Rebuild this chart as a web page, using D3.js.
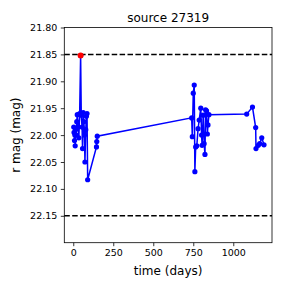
<!DOCTYPE html>
<html>
<head>
<meta charset="utf-8">
<script src="https://cdn.jsdelivr.net/npm/d3@7"></script>
<style>
  body { margin: 0; background: #fff; }
  text { font-family: "DejaVu Sans", sans-serif; fill: #000; }
</style>
</head>
<body>
<svg id="chart" width="288" height="288"></svg>
<script>
const title = "source 27319";
const xLabel = "time (days)";
const yLabel = "r mag (mag)";

// light curve, time in days and r magnitude
const days = [3, 5, 8, 10, 12, 14, 18, 22, 25, 30, 35, 40, 46, 50, 55, 58, 62, 66, 70, 73, 78, 82, 86, 90,
    145, 147, 150,
    740, 744, 750, 756, 760, 765, 772, 780, 787, 797, 802, 805, 812, 818, 823, 827, 833, 838, 842, 848,
    1084, 1120, 1140, 1142, 1156, 1165, 1178, 1192];
const mags = [21.985, 21.995, 22.010, 22.000, 22.020, 21.990, 22.000, 21.975, 21.962, 21.985, 22.005, 21.960, 21.852, 21.963, 21.985, 22.025, 21.958, 21.975, 22.000, 22.050, 21.990, 21.965, 21.960, 22.083,
    22.022, 22.012, 22.002,
    21.968, 22.003, 21.922, 21.907, 22.068, 22.022, 22.020, 21.988, 21.972, 21.950, 22.000, 22.019, 21.963, 22.016, 22.036, 21.953, 21.955, 21.998, 21.981, 21.962,
    21.961, 21.948, 21.986, 22.025, 22.019, 22.016, 22.005, 22.018];
const flagged = [12]; // index of the red point
const limits = [21.85, 22.15];

const xTicks = [0, 250, 500, 750, 1000];
const yTicks = [21.80, 21.85, 21.90, 21.95, 22.00, 22.05, 22.10, 22.15];

const data = days.map((d, i) => ({ t: d, m: mags[i] }));

const margin = { top: 27.5, right: 16, bottom: 45.3, left: 64.3 };
const width = 288 - margin.left - margin.right;
const height = 288 - margin.top - margin.bottom;

const xScale = d3.scaleLinear()
    .domain([-56, 1242])
    .range([0, width]);
const yScale = d3.scaleLinear()
    .domain([21.80, 22.20])
    .range([0, height]);

const svg = d3.select("#chart");
const chart = svg.append("g")
    .attr("transform", `translate(${margin.left}, ${margin.top})`);

// limit lines
chart.selectAll(".limit")
    .data(limits)
    .join("line")
    .attr("x1", 0)
    .attr("x2", width)
    .attr("y1", d => yScale(d))
    .attr("y2", d => yScale(d))
    .attr("stroke", "#000")
    .attr("stroke-width", 1.5)
    .attr("stroke-dasharray", "5.5,2.4");

const line = d3.line()
    .x(d => xScale(d.t))
    .y(d => yScale(d.m));

chart.append("path")
    .datum(data)
    .attr("d", line)
    .attr("fill", "none")
    .attr("stroke", "#0000ff")
    .attr("stroke-width", 1.5);

chart.selectAll(".pt")
    .data(data)
    .join("circle")
    .attr("r", 2.6)
    .attr("cx", d => xScale(d.t))
    .attr("cy", d => yScale(d.m))
    .attr("fill", "#0000ff");

chart.selectAll(".flag")
    .data(flagged.map(i => data[i]))
    .join("circle")
    .attr("r", 3)
    .attr("cx", d => xScale(d.t))
    .attr("cy", d => yScale(d.m))
    .attr("fill", "#ff0000");

// axes
const xAxis = chart.append("g")
    .attr("transform", `translate(0, ${height})`)
    .call(d3.axisBottom(xScale).tickValues(xTicks).tickSize(3.5).tickPadding(3.5).tickFormat(d3.format("d")));
const yAxis = chart.append("g")
    .call(d3.axisLeft(yScale).tickValues(yTicks).tickSize(3.5).tickPadding(3.5).tickFormat(d3.format(".2f")));

[xAxis, yAxis].forEach(a => {
    a.select(".domain").remove();
    a.selectAll("line").attr("stroke", "#000").attr("stroke-width", 0.8);
    a.selectAll("text").attr("font-size", 9.5).attr("font-family", "DejaVu Sans").attr("fill", "#000");
});

chart.append("rect")
    .attr("width", width)
    .attr("height", height)
    .attr("fill", "none")
    .attr("stroke", "#000")
    .attr("stroke-width", 0.8);

svg.append("text")
    .attr("x", margin.left + width / 2)
    .attr("y", 21.5)
    .attr("text-anchor", "middle")
    .attr("font-size", 12)
    .text(title);

svg.append("text")
    .attr("x", margin.left + width / 2)
    .attr("y", 275)
    .attr("text-anchor", "middle")
    .attr("font-size", 12)
    .text(xLabel);

svg.append("text")
    .attr("transform", `translate(20, ${margin.top + height / 2}) rotate(-90)`)
    .attr("text-anchor", "middle")
    .attr("font-size", 12)
    .text(yLabel);
</script>
</body>
</html>
